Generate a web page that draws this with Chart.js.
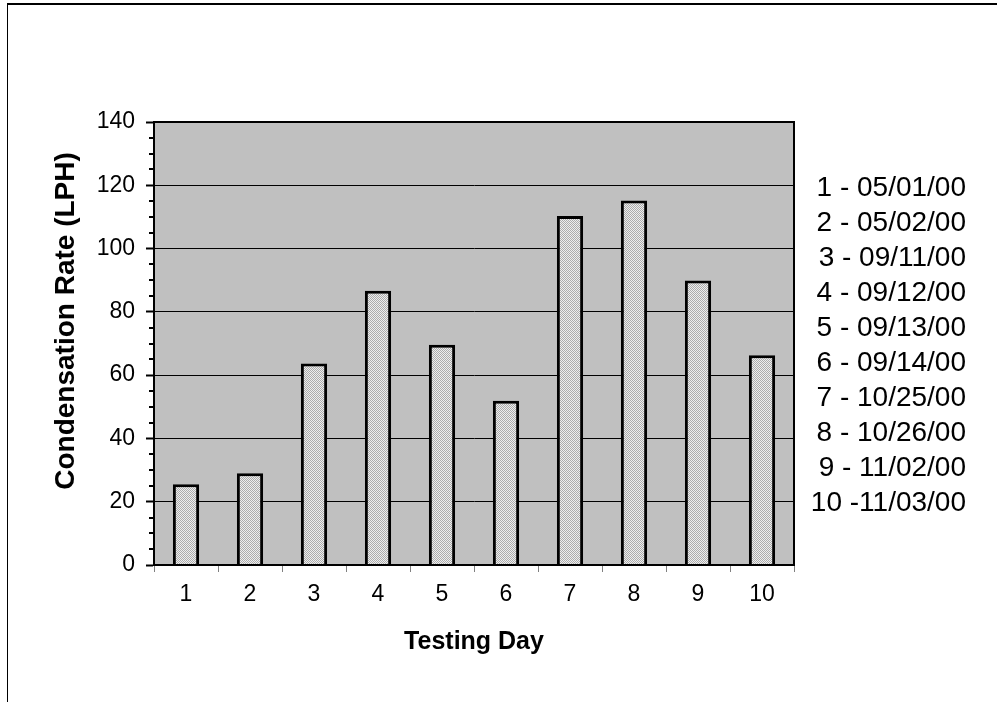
<!DOCTYPE html>
<html>
<head>
<meta charset="utf-8">
<script src="https://cdn.jsdelivr.net/npm/chart.js@4.4.0/dist/chart.umd.min.js"></script>
<style>
  html, body { margin: 0; padding: 0; background: #fff; }
  #wrap { position: relative; width: 997px; height: 702px; overflow: hidden; }
  #frame { position: absolute; left: 7px; top: 3px; width: 1000px; height: 710px;
           border-top: 2px solid #000; border-left: 1px solid #000; }
  canvas { position: absolute; left: 0; top: 0; }
  #dates { position: absolute; left: 760px; width: 206px; top: 169px; text-align: right;
           font: 28px 'Liberation Sans', Arial, sans-serif; line-height: 35px; color: #000; white-space: pre; }
  #ytitle { position: absolute; left: -135px; top: 305px; width: 400px; height: 32px; line-height: 32px;
            text-align: center; font: bold 28px 'Liberation Sans', Arial, sans-serif; color: #000;
            transform: rotate(-90deg); }
</style>
</head>
<body>
<div id="wrap">
  <div id="frame"></div>
  <canvas id="chart" width="997" height="702"></canvas>
  <div id="ytitle">Condensation Rate (LPH)</div>
  <div id="dates"></div>
</div>
<script>
const days = ['1', '2', '3', '4', '5', '6', '7', '8', '9', '10'];
const rates = [25.5, 29, 63.7, 86.7, 69.6, 51.9, 110.3, 115.2, 89.9, 66.3];
const dateLabels = ['1 - 05/01/00', '2 - 05/02/00', '3 - 09/11/00', '4 - 09/12/00', '5 - 09/13/00',
                    '6 - 09/14/00', '7 - 10/25/00', '8 - 10/26/00', '9 - 11/02/00', '10 -11/03/00'];
const yMax = 140;
const yStep = 20;
const yMinorStep = 5;

document.getElementById('dates').textContent = dateLabels.join('\n');

Chart.defaults.font.family = "'Liberation Sans', Arial, sans-serif";
Chart.defaults.color = '#000';

// stippled fill for the bars
const pat = document.createElement('canvas');
pat.width = 2; pat.height = 2;
const pctx = pat.getContext('2d');
pctx.fillStyle = '#eeeeee'; pctx.fillRect(0, 0, 2, 2);
pctx.fillStyle = '#acacac'; pctx.fillRect(0, 0, 1, 1); pctx.fillRect(1, 1, 1, 1);
const barFill = pctx.createPattern(pat, 'repeat');

const plotFrame = {
  id: 'plotFrame',
  beforeDraw(chart) {
    const { ctx, chartArea: a } = chart;
    ctx.save();
    ctx.fillStyle = '#c0c0c0';
    ctx.fillRect(a.left, a.top, a.right - a.left, a.bottom - a.top);
    ctx.restore();
  },
  afterDatasetsDraw(chart) {
    const { ctx, chartArea: a } = chart;
    const y = chart.scales.y;
    ctx.save();
    ctx.strokeStyle = '#000';
    ctx.lineWidth = 2;
    ctx.strokeRect(a.left, a.top, a.right - a.left, a.bottom - a.top);
    // minor ticks
    ctx.beginPath();
    for (let v = yMinorStep; v < yMax; v += yMinorStep) {
      if (v % yStep === 0) continue;
      const py = Math.round(y.getPixelForValue(v));
      ctx.moveTo(a.left - 5, py);
      ctx.lineTo(a.left, py);
    }
    ctx.stroke();
    ctx.restore();
  }
};

new Chart(document.getElementById('chart'), {
  type: 'bar',
  data: {
    labels: days,
    datasets: [{
      data: rates,
      backgroundColor: barFill,
      borderColor: '#000',
      borderWidth: 3,
      categoryPercentage: 1,
      barPercentage: 0.41
    }]
  },
  options: {
    responsive: false,
    animation: false,
    devicePixelRatio: 1,
    layout: { padding: { left: 50, top: 122, right: 203, bottom: 45 } },
    plugins: { legend: { display: false }, tooltip: { enabled: false } },
    scales: {
      x: {
        afterFit(scale) { scale.height = 92; },
        grid: { drawOnChartArea: false, color: '#808080', tickLength: 7, lineWidth: 1 },
        border: { color: '#000', width: 2 },
        ticks: { font: { size: 23 }, padding: 9, maxRotation: 0 },
        title: { display: true, text: 'Testing Day', font: { size: 25, weight: 'bold' }, padding: 0 }
      },
      y: {
        min: 0,
        max: yMax,
        afterFit(scale) { scale.width = 104; },
        ticks: { stepSize: yStep, font: { size: 23 }, padding: 11 },
        grid: { color: '#000', lineWidth: 1, tickLength: 8, tickWidth: 2, tickColor: '#000' },
        border: { color: '#000', width: 2 }
      }
    }
  },
  plugins: [plotFrame]
});
</script>
</body>
</html>
